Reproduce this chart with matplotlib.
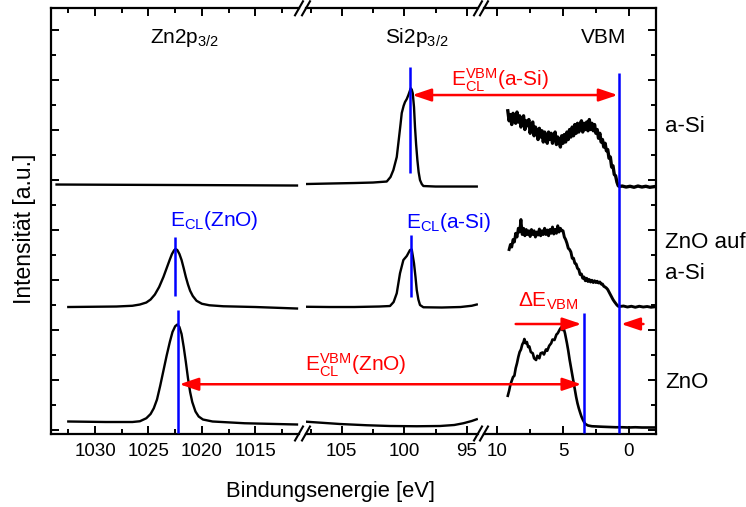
import matplotlib
matplotlib.use('Agg')
import matplotlib.pyplot as plt
from matplotlib.lines import Line2D
from matplotlib.patches import ConnectionPatch
from matplotlib.ticker import MultipleLocator

plt.rcParams['font.family'] = ['Liberation Sans', 'DejaVu Sans']
plt.rcParams['mathtext.fontset'] = 'custom'
plt.rcParams['mathtext.rm'] = 'Liberation Sans'
plt.rcParams['mathtext.it'] = 'Liberation Sans:italic'
plt.rcParams['mathtext.bf'] = 'Liberation Sans:bold'
plt.rcParams['mathtext.default'] = 'regular'

# ---------------- data ----------------
# Zn2p3/2 region (binding energy eV, intensity a.u.)
zn_aSi_E = [1033.6, 1028.0, 1022.0, 1016.0, 1011.1]
zn_aSi_y = [9.80, 9.79, 9.78, 9.77, 9.76]

zn_mid_E = [1032.5, 1028.0, 1026.5, 1025.8, 1025.2, 1024.8, 1024.4, 1024.0, 1023.6,
            1023.3, 1023.0, 1022.8, 1022.6, 1022.47, 1022.3, 1022.1, 1021.9, 1021.7,
            1021.5, 1021.3, 1021.1, 1020.85, 1020.5, 1020.0, 1019.3, 1018.0, 1015.0,
            1011.1]
zn_mid_y = [4.90, 4.92, 4.95, 5.00, 5.08, 5.20, 5.40, 5.70, 6.10,
            6.45, 6.80, 7.02, 7.17, 7.22, 7.18, 7.02, 6.78, 6.45,
            6.10, 5.80, 5.55, 5.34, 5.15, 5.03, 4.97, 4.93, 4.90,
            4.84]

zn_zno_E = [1032.5, 1029.0, 1026.5, 1025.8, 1025.2, 1024.8, 1024.5, 1024.2, 1023.9,
            1023.6, 1023.3, 1023.0, 1022.75, 1022.5, 1022.3, 1022.1, 1021.9, 1021.7,
            1021.5, 1021.3, 1021.1, 1020.9, 1020.6, 1020.3, 1019.9, 1019.0, 1016.0,
            1011.1]
zn_zno_y = [0.32, 0.30, 0.30, 0.33, 0.45, 0.62, 0.85, 1.20, 1.75,
            2.35, 2.95, 3.50, 3.90, 4.13, 4.20, 4.10, 3.82, 3.30,
            2.70, 2.05, 1.50, 1.10, 0.72, 0.52, 0.40, 0.32, 0.25,
            0.20]

# Si2p3/2 region
si_aSi_E = [107.9, 106.0, 104.0, 102.5, 101.4, 101.1, 100.87, 100.6, 100.47, 100.3,
            100.2, 100.05, 99.94, 99.8, 99.67, 99.55, 99.48, 99.4, 99.32, 99.22, 99.14,
            99.05, 98.95, 98.85, 98.74, 98.6, 98.47, 97.5, 96.0, 94.2]
si_aSi_y = [9.82, 9.84, 9.86, 9.88, 9.92, 10.10, 10.38, 10.90, 11.46, 12.20,
            12.66, 12.95, 13.10, 13.22, 13.38, 13.55, 13.65, 13.60, 13.45, 12.90, 12.10,
            11.40, 10.78, 10.30, 9.98, 9.82, 9.74, 9.72, 9.72, 9.72]

si_mid_E = [107.9, 106.0, 104.0, 102.0, 101.14, 100.85, 100.6, 100.34, 100.07, 99.8,
            99.54, 99.4, 99.22, 99.1, 99.0, 98.87, 98.74, 98.47, 97.0, 95.5, 94.6, 94.2]
si_mid_y = [4.91, 4.90, 4.90, 4.92, 4.94, 5.10, 5.45, 6.25, 6.78, 6.94,
            7.18, 7.20, 6.65, 6.10, 5.58, 5.20, 4.98, 4.89, 4.88, 4.90, 4.95, 5.00]

si_zno_E = [107.8, 105.14, 103.0, 101.14, 99.0, 97.14, 96.0, 95.27, 94.6, 94.2]
si_zno_y = [0.31, 0.22, 0.17, 0.14, 0.13, 0.14, 0.18, 0.25, 0.34, 0.41]

# Valence band region
vb_aSi_E = [9.2, 9.1, 9.0, 8.9, 8.8, 8.7, 8.6, 8.5, 8.4, 8.3, 8.2, 8.1, 8.0, 7.9, 7.8,
            7.7, 7.6, 7.5, 7.4, 7.3, 7.2, 7.1, 7.0, 6.9, 6.8, 6.7, 6.6, 6.5, 6.4, 6.3,
            6.2, 6.1, 6.0, 5.9, 5.8, 5.7, 5.6, 5.5, 5.4, 5.3, 5.2, 5.1, 5.0, 4.9, 4.8,
            4.7, 4.6, 4.5, 4.4, 4.3, 4.2, 4.1, 4.0, 3.9, 3.8, 3.7, 3.6, 3.5, 3.4, 3.3,
            3.2, 3.1, 3.0, 2.9, 2.8, 2.7, 2.6, 2.5, 2.4, 2.3, 2.2, 2.1, 2.0, 1.9, 1.8,
            1.7, 1.6, 1.5, 1.4, 1.3, 1.2, 1.1, 1.0, 0.9, 0.8, 0.7,
            0.5, 0.2, -0.1, -0.4, -0.7, -1.0, -1.3, -1.6, -2.0]
vb_aSi_y = [12.75, 12.35, 12.60, 12.20, 12.65, 12.45, 12.25, 12.70, 12.30, 12.55, 12.10,
            12.40, 12.55, 12.00, 12.35, 12.15, 12.40, 11.85, 12.20, 12.30, 11.75, 12.10,
            11.95, 11.60, 12.05, 11.70, 11.95, 11.50, 11.90, 11.65, 11.45, 11.90, 11.60,
            11.85, 11.45, 11.75, 11.90, 11.40, 11.70, 11.55, 11.30, 11.75, 11.45, 11.80,
            11.50, 11.90, 11.60, 12.00, 11.70, 12.10, 11.75, 12.20, 11.85, 12.25, 11.90,
            12.20, 12.35, 11.90, 12.25, 12.00, 12.30, 11.95, 12.40, 12.00, 12.25, 11.95,
            12.20, 11.85, 12.00, 11.65, 11.85, 11.50, 11.60, 11.30, 11.45, 11.15, 11.20,
            10.85, 10.90, 10.50, 10.55, 10.20, 10.15, 9.90, 9.75, 9.72,
            9.74, 9.70, 9.73, 9.69, 9.74, 9.70, 9.73, 9.69, 9.72]

vb_mid_E = [9.1, 9.0, 8.9, 8.8, 8.7, 8.6, 8.5, 8.4, 8.3, 8.2, 8.1, 8.0, 7.9, 7.8, 7.7,
            7.6, 7.5, 7.4, 7.3, 7.2, 7.1, 7.0, 6.9, 6.8, 6.7, 6.6, 6.5, 6.4, 6.3, 6.2,
            6.1, 6.0, 5.9, 5.8, 5.7, 5.6, 5.5, 5.4, 5.3, 5.2, 5.1, 5.0, 4.9, 4.8, 4.7,
            4.6, 4.5, 4.4, 4.3, 4.2, 4.1, 4.0, 3.9, 3.8, 3.7, 3.6, 3.5, 3.4, 3.3, 3.2,
            3.1, 3.0, 2.9, 2.8, 2.7, 2.6, 2.5, 2.4, 2.3, 2.2, 2.1, 2.0, 1.9, 1.8, 1.7,
            1.6, 1.5, 1.4, 1.3, 1.2, 1.1, 1.0, 0.9, 0.8, 0.7,
            0.4, 0.1, -0.2, -0.5, -0.8, -1.1, -1.4, -1.7, -2.0]
vb_mid_y = [7.20, 7.40, 7.30, 7.60, 7.50, 7.85, 7.70, 8.05, 7.90, 8.40, 7.80, 8.05, 7.75,
            8.00, 7.80, 7.95, 7.72, 8.00, 7.80, 7.95, 7.70, 7.90, 7.78, 8.02, 7.75, 7.95,
            7.80, 8.05, 7.80, 7.98, 7.75, 8.00, 7.85, 8.10, 7.82, 8.00, 7.85, 8.15, 7.90,
            8.05, 7.95, 7.95, 7.70, 7.60, 7.45, 7.25, 7.20, 7.10, 6.85, 6.85, 6.65, 6.62,
            6.45, 6.40, 6.20, 6.22, 6.05, 6.10, 5.95, 6.05, 5.92, 6.00, 5.90, 5.97, 5.88,
            5.95, 5.88, 5.93, 5.86, 5.90, 5.82, 5.82, 5.73, 5.70, 5.66, 5.60, 5.50, 5.40,
            5.30, 5.20, 5.12, 5.05, 4.98, 4.93, 4.92,
            4.94, 4.90, 4.93, 4.89, 4.93, 4.90, 4.92, 4.89, 4.91]

vb_zno_E = [9.2, 9.1, 9.0, 8.9, 8.8, 8.7, 8.6, 8.5, 8.4, 8.3, 8.2, 8.1, 8.0, 7.94, 7.85,
            7.75, 7.65, 7.56, 7.45, 7.3, 7.2, 7.05, 6.95, 6.8, 6.7, 6.56, 6.45, 6.3, 6.2,
            6.05, 5.9, 5.8, 5.65, 5.5, 5.4, 5.25, 5.15, 5.05, 4.95, 4.85, 4.7, 4.6, 4.5,
            4.4, 4.3, 4.2, 4.1, 4.0, 3.9, 3.8, 3.7, 3.6, 3.5, 3.4, 3.3, 3.1, 2.8, 2.4,
            2.0, 1.5, 1.0, 0.5, 0.0, -0.5, -1.0, -1.5, -2.0]
vb_zno_y = [1.35, 1.55, 1.80, 1.95, 2.10, 2.15, 2.45, 2.65, 2.90, 3.10, 3.20, 3.40,
            3.50, 3.62, 3.45, 3.50, 3.30, 3.32, 3.10, 3.05, 2.85, 2.78, 2.95, 2.85, 3.05,
            3.08, 3.00, 3.20, 3.15, 3.35, 3.45, 3.60, 3.58, 3.80, 3.85, 4.00, 4.08, 3.98,
            4.05, 3.85, 3.45, 3.15, 2.80, 2.50, 2.20, 1.90, 1.60, 1.30, 1.05, 0.85, 0.68,
            0.52, 0.40, 0.30, 0.22, 0.16, 0.13, 0.12, 0.11, 0.10, 0.09, 0.09, 0.08, 0.09,
            0.08, 0.08, 0.08]

# Marker lines (blue): (energy, y_from, y_to)
zn_marks = [(1022.47, 5.34, 7.72), (1022.28, -0.12, 4.78)]
si_marks = [(99.52, 10.26, 14.50), (99.46, 5.31, 7.78)]
vb_marks = [(0.74, -0.14, 14.26), (3.40, -0.12, 4.66)]

zn_ticks = [1030, 1025, 1020, 1015]
si_ticks = [105, 100, 95]
vb_ticks = [10, 5, 0]

# ---------------- layout ----------------
W, H = 746, 507
fig = plt.figure(figsize=(W / 100, H / 100), dpi=100)


def fx(px):
    return px / W


def fy(py):
    return 1 - py / H


yb, yt = fy(433.5), fy(8.3)
axZ = fig.add_axes([fx(51), yb, fx(299) - fx(51), yt - yb])
axS = fig.add_axes([fx(306), yb, fx(478) - fx(306), yt - yb])
axV = fig.add_axes([fx(484), yb, fx(655.7) - fx(484), yt - yb])

ylim = (-0.16, 16.85)
lw_curve = 1.7
for ax in (axZ, axS, axV):
    ax.set_ylim(*ylim)
    ax.patch.set_visible(False)
    for s in ax.spines.values():
        s.set_linewidth(1.6)
    ax.tick_params(axis='both', which='both', direction='in', width=1.4,
                   top=True, bottom=True, labelsize=13.5, pad=7)
    ax.tick_params(which='major', length=6)
    ax.tick_params(which='minor', length=3.5)
    ax.xaxis.set_minor_locator(MultipleLocator(2.5))
    ax.yaxis.set_major_locator(MultipleLocator(2))
    ax.yaxis.set_minor_locator(MultipleLocator(1))

axZ.set_xlim(1034.12, 1010.91)
axS.set_xlim(107.86, 94.1)
axV.set_xlim(11.01, -2.05)
axZ.set_xticks(zn_ticks)
axS.set_xticks(si_ticks)
axV.set_xticks(vb_ticks)
axZ.set_xticklabels([str(t) for t in zn_ticks])
axS.set_xticklabels([str(t) for t in si_ticks])
axV.set_xticklabels([str(t) for t in vb_ticks])

axZ.spines['right'].set_visible(False)
axS.spines['left'].set_visible(False)
axS.spines['right'].set_visible(False)
axV.spines['left'].set_visible(False)
axZ.tick_params(axis='y', which='both', left=True, right=False, labelleft=False)
axS.tick_params(axis='y', which='both', left=False, right=False, labelleft=False)
axV.tick_params(axis='y', which='both', left=False, right=True, labelleft=False,
                labelright=False)

# curves
for E, y in ((zn_aSi_E, zn_aSi_y), (zn_mid_E, zn_mid_y), (zn_zno_E, zn_zno_y)):
    axZ.plot(E, y, color='black', lw=lw_curve, solid_joinstyle='round')
for E, y in ((si_aSi_E, si_aSi_y), (si_mid_E, si_mid_y), (si_zno_E, si_zno_y)):
    axS.plot(E, y, color='black', lw=lw_curve, solid_joinstyle='round')
axV.plot(vb_aSi_E, vb_aSi_y, color='black', lw=2.4, solid_joinstyle='round')
axV.plot(vb_mid_E, vb_mid_y, color='black', lw=2.1, solid_joinstyle='round')
axV.plot(vb_zno_E, vb_zno_y, color='black', lw=1.9, solid_joinstyle='round')

blue = '#0000ff'
for ax, marks in ((axZ, zn_marks), (axS, si_marks), (axV, vb_marks)):
    for e, y0, y1 in marks:
        ax.plot([e, e], [y0, y1], color=blue, lw=1.8, solid_capstyle='butt', zorder=5)

# red arrows
red = '#ff0000'


def arrow(axA, xyA, axB, xyB, style):
    con = ConnectionPatch(xyA=xyA, coordsA=axA.transData, xyB=xyB, coordsB=axB.transData,
                          arrowstyle=style, color=red, lw=1.8, mutation_scale=12,
                          shrinkA=0, shrinkB=0, zorder=10)
    fig.add_artist(con)


dbl = '<|-|>,head_length=0.95,head_width=0.32'
one = '-|>,head_length=0.95,head_width=0.32'
arrow(axS, (99.36, 13.38), axV, (0.84, 13.38), dbl)
arrow(axZ, (1022.1, 1.81), axV, (3.60, 1.81), dbl)
arrow(axV, (8.6, 4.22), axV, (3.60, 4.22), one)
arrow(axV, (-1.12, 4.22), axV, (0.58, 4.22), one)

# break marks
for bx in (299, 306, 478, 484):
    for by in (433.5, 8.3):
        fig.add_artist(Line2D([fx(bx - 4), fx(bx + 4)], [fy(by + 7), fy(by - 7)],
                              color='black', lw=1.5))

# texts
fs = 15
fig.text(fx(150), fy(43), 'Zn2p$_{3/2}$', fontsize=fs, va='baseline', ha='left')
fig.text(fx(385), fy(43), 'Si2p$_{3/2}$', fontsize=fs, va='baseline', ha='left')
fig.text(fx(581), fy(43), 'VBM', fontsize=fs, va='baseline', ha='left')

fig.text(fx(170), fy(226.5), 'E$_{CL}$(ZnO)', fontsize=fs, color=blue, va='baseline')
fig.text(fx(406), fy(228), 'E$_{CL}$(a-Si)', fontsize=fs, color=blue, va='baseline')

fig.text(fx(451), fy(86.5), '$E_{CL}^{VBM}$(a-Si)', fontsize=fs, color=red, va='baseline')
fig.text(fx(305), fy(371), '$E_{CL}^{VBM}$(ZnO)', fontsize=fs, color=red, va='baseline')
fig.text(fx(518), fy(307), 'ΔE$_{VBM}$', fontsize=fs, color=red, va='baseline')

fs_r = 16
fig.text(fx(665), fy(132), 'a-Si', fontsize=fs_r, va='baseline')
fig.text(fx(665), fy(248), 'ZnO auf', fontsize=fs_r, va='baseline')
fig.text(fx(665), fy(279), 'a-Si', fontsize=fs_r, va='baseline')
fig.text(fx(665), fy(388), 'ZnO', fontsize=fs_r, va='baseline')

fig.text(fx(25), fy(229), 'Intensität [a.u.]', fontsize=16.5, rotation=90,
         ha='center', va='center')
fig.text(fx(331), fy(497), 'Bindungsenergie [eV]', fontsize=15.8, ha='center',
         va='baseline')

fig.savefig('out.png', dpi=100)
